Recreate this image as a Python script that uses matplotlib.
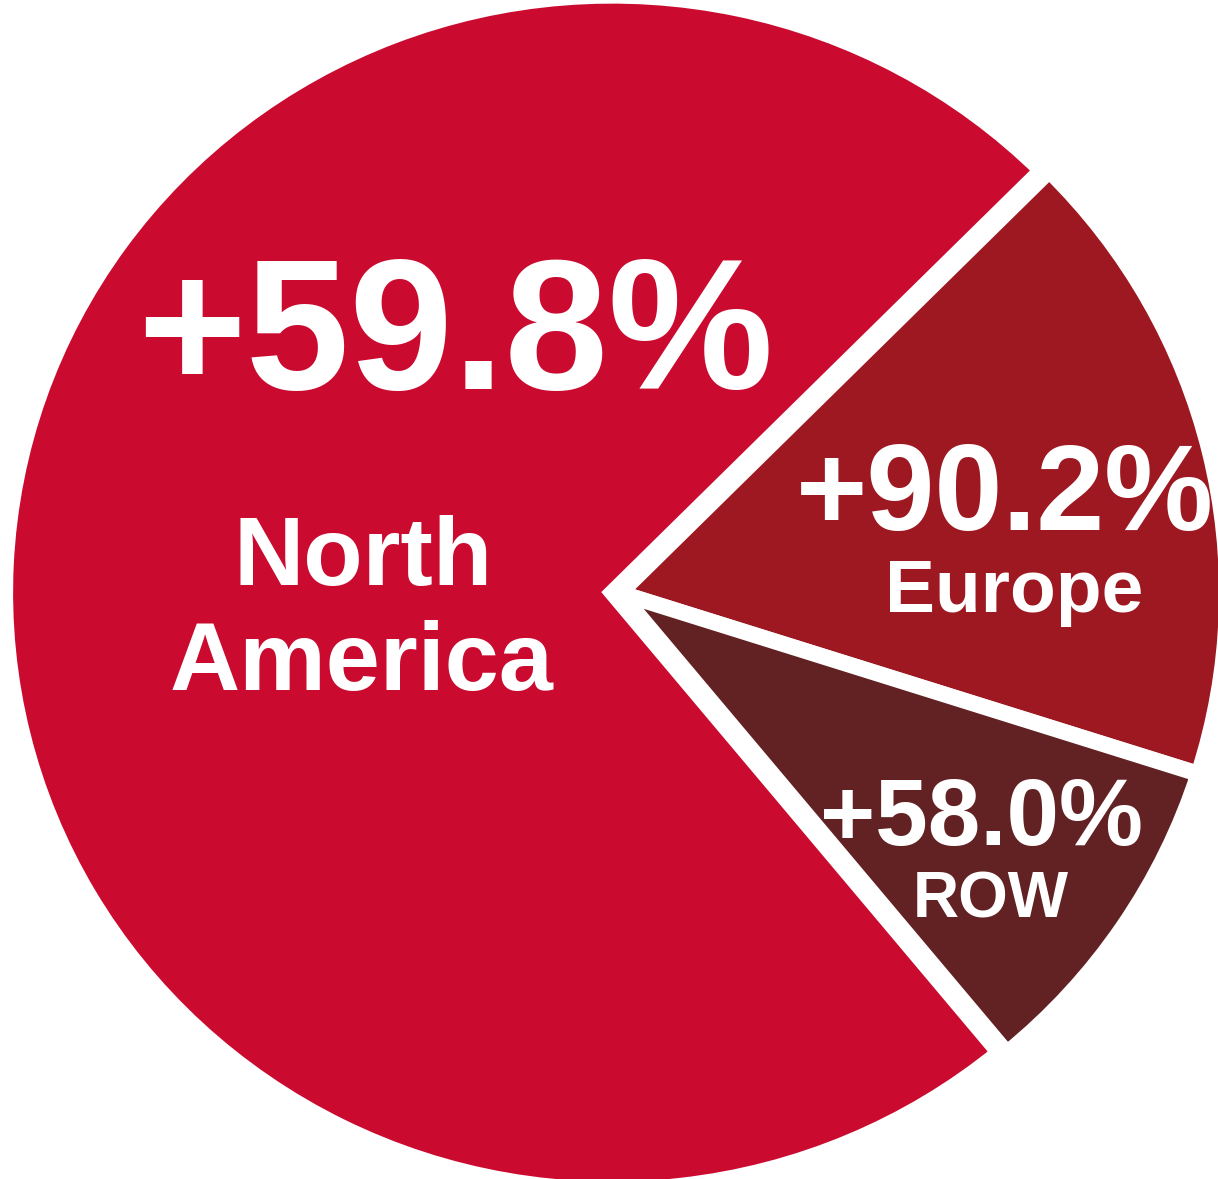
import matplotlib
matplotlib.use("Agg")
from matplotlib import pyplot as plt

# slice shares and the growth labels
regions = ["North America", "Europe", "ROW"]
shares = [73.5, 17.4, 9.1]
growth = ["+59.8%", "+90.2%", "+58.0%"]
colors = ["#CB0A30", "#9D1821", "#622223"]
explode = [0.013, 0, 0]   # NA pulled out a touch to the left

W, H = 1218, 1179
fig = plt.figure(figsize=(W / 100, H / 100), dpi=100)
ax = fig.add_axes([0, 0, 1, 1])

# NA starts at the lower boundary and runs clockwise round to 45 deg
start = 45 + 360 * shares[0] / sum(shares) - 360
wedges, _ = ax.pie(shares, colors=colors, explode=explode, startangle=start,
                   counterclock=False,
                   wedgeprops=dict(edgecolor="white", linewidth=11.5))
# sharp miters on the thin slices poke into NA, so bevel those
for w in wedges[1:]:
    w.set_joinstyle("bevel")

# pie centre at pixel (620, 593), slightly wider than tall, clipped by the frame
cx, cy = 620, 593
rx, ry = 607, 597
ax.set_aspect("auto")
ax.set_xlim(-cx / rx, (W - cx) / rx)
ax.set_ylim(-(H - cy) / ry, cy / ry)
ax.axis("off")

font = "Liberation Sans"


def label(px, py, s, size):
    # px, py in pixels from the top-left, baseline anchored
    fig.text(px / W, 1 - py / H, s, ha="center", va="baseline", color="white",
             fontsize=size, fontweight="bold", family=font)


label(455, 389, growth[0], 134)
label(363, 585, "North", 70)
label(362, 690, "America", 70)

label(1005, 530, growth[1], 88)
label(1014, 612, regions[1], 54)

label(981, 845, growth[2], 68)
label(991, 918, regions[2], 46)

fig.savefig("out.png", dpi=100, facecolor="white")
